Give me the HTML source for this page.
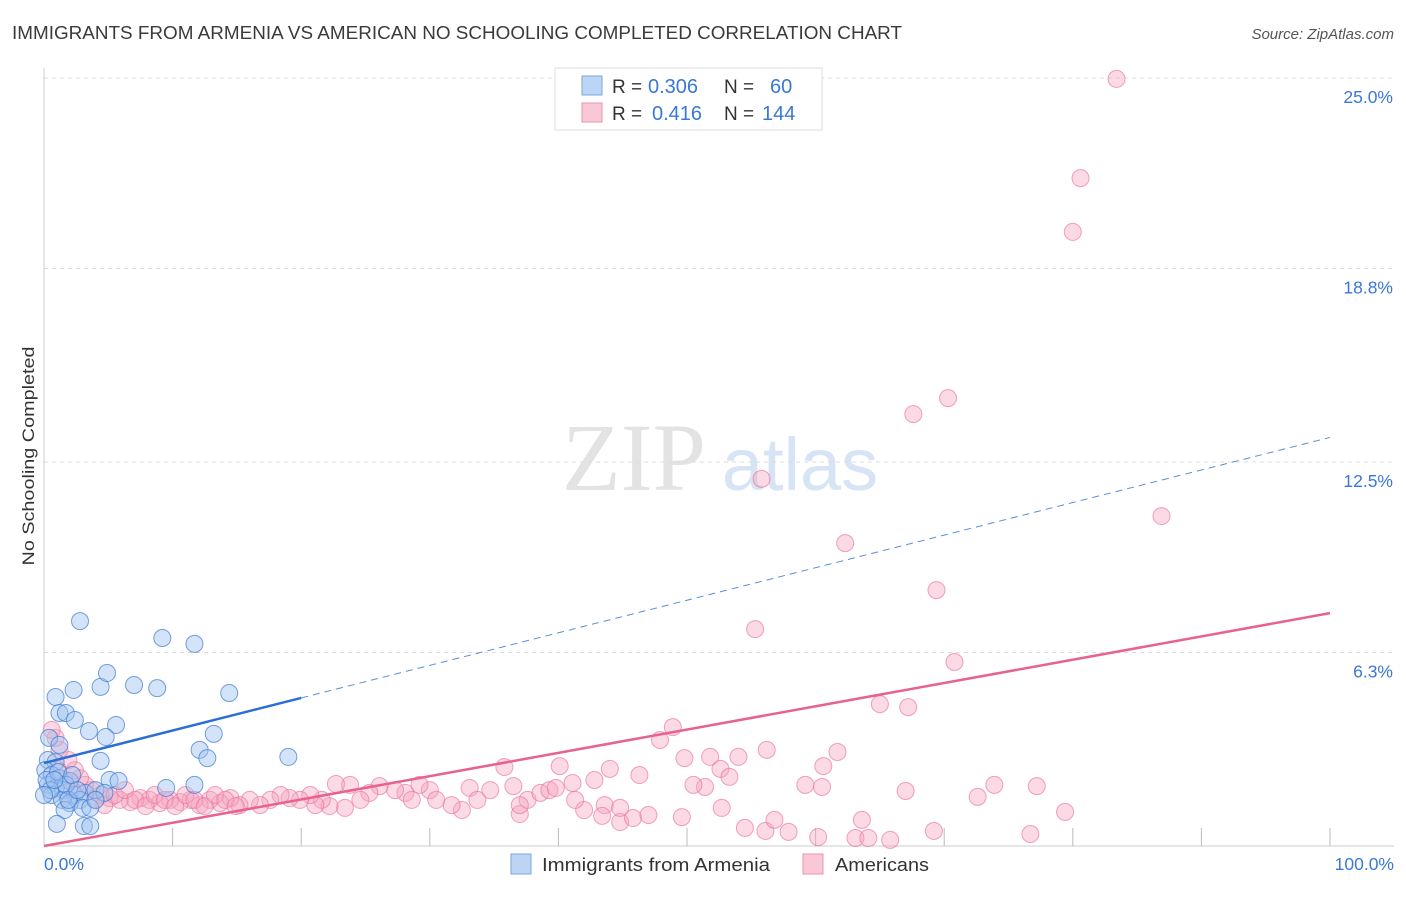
<!DOCTYPE html>
<html><head><meta charset="utf-8"><style>
body{margin:0;background:#fff;font-family:"Liberation Sans",sans-serif;}
svg text{font-family:"Liberation Sans",sans-serif;}
</style></head><body>
<svg id="chart" width="1406" height="892" viewBox="0 0 1406 892" xmlns="http://www.w3.org/2000/svg">
<text x="12" y="39" font-size="18" fill="#3a3a3a" textLength="890" lengthAdjust="spacingAndGlyphs">IMMIGRANTS FROM ARMENIA VS AMERICAN NO SCHOOLING COMPLETED CORRELATION CHART</text>
<text x="1394" y="39" font-size="15" fill="#555" font-style="italic" text-anchor="end">Source: ZipAtlas.com</text>
<g>
<text x="634" y="490" font-size="96" fill="#e3e3e3" text-anchor="middle" font-family="Liberation Serif, serif" style="font-family:'Liberation Serif',serif">ZIP</text>
<text x="800" y="490" font-size="74" fill="#d6e4f5" text-anchor="middle">atlas</text>
</g>
<g id="grid"></g>
<g id="axes"></g>
<g id="pink"></g>
<g id="blue"></g>
<g id="lines"></g>
<text transform="translate(34,456) rotate(-90)" font-size="17" fill="#333" text-anchor="middle" textLength="219" lengthAdjust="spacingAndGlyphs">No Schooling Completed</text>
<g>
<rect x="555" y="68" width="267" height="62" fill="#fff" stroke="#ddd"/>
<rect x="582" y="76" width="20" height="19" fill="#bcd5f5" stroke="#7aa7e0"/>
<text x="612" y="93" font-size="19" fill="#333">R = </text><text x="648" y="93" font-size="20" fill="#3a78d6">0.306</text>
<text x="724" y="93" font-size="19" fill="#333">N = </text><text x="770" y="93" font-size="20" fill="#3a78d6">60</text>
<rect x="582" y="103" width="20" height="19" fill="#f9c8d6" stroke="#ec93ad"/>
<text x="612" y="120" font-size="19" fill="#333">R = </text><text x="652" y="120" font-size="20" fill="#3a78d6">0.416</text>
<text x="724" y="120" font-size="19" fill="#333">N = </text><text x="762" y="120" font-size="20" fill="#3a78d6">144</text>
</g>
<g>
<rect x="511" y="854" width="20" height="20" fill="#bcd5f5" stroke="#7aa7e0"/>
<text x="542" y="871" font-size="18" fill="#333" textLength="228" lengthAdjust="spacingAndGlyphs">Immigrants from Armenia</text>
<rect x="803" y="854" width="20" height="20" fill="#f9c8d6" stroke="#ec93ad"/>
<text x="835" y="871" font-size="18" fill="#333" textLength="94" lengthAdjust="spacingAndGlyphs">Americans</text>
</g>
</svg>
<script>
const yTicks=[6.3,12.5,18.8,25.0];
const yTickLabels=["6.3%","12.5%","18.8%","25.0%"];
const xTickLabels=["0.0%","100.0%"];
const blueX=[2.8,9.2,11.7,0.9,2.3,4.4,4.9,7.0,8.8,14.4,1.2,1.7,2.4,3.5,5.6,4.8,13.2,12.1,12.7,19.0,0.4,1.2,4.4,0.3,0.9,0.1,0.6,1.2,2.0,0.3,0.9,1.5,2.4,3.2,5.1,5.8,9.5,11.7,0.6,1.4,2.8,4.0,4.7,2.0,3.0,1.6,3.6,1.0,3.1,3.6,0.2,0.5,1.1,1.7,0.0,2.2,1.9,2.6,0.8,4.0];
const blueY=[7.32,6.77,6.58,4.85,5.08,5.18,5.63,5.24,5.14,4.98,4.33,4.33,4.10,3.74,3.94,3.55,3.65,3.13,2.86,2.90,3.52,3.29,2.77,2.80,2.73,2.47,2.31,2.21,2.12,1.99,1.89,1.82,1.66,1.73,2.15,2.12,1.89,1.99,1.66,1.50,1.50,1.82,1.73,1.40,1.24,1.17,1.24,0.72,0.65,0.65,2.15,1.82,2.41,1.99,1.66,2.31,1.50,1.82,2.15,1.50];
const pinkX=[83.4,80.6,80.0,67.6,70.3,55.8,86.9,62.3,69.4,55.3,70.8,65.0,67.2,48.9,47.9,49.8,51.8,51.4,52.6,53.3,54.0,56.2,52.7,60.6,61.7,59.2,56.1,56.8,54.5,57.9,60.2,60.5,63.1,63.6,65.8,69.2,67.0,73.9,72.6,77.2,79.4,76.7,64.1,46.3,43.6,44.8,45.8,47.0,44.8,49.6,50.5,42.0,43.4,41.1,42.8,44.0,40.1,41.3,35.8,36.5,37.0,37.6,38.6,39.3,39.8,37.0,33.1,33.7,32.5,31.7,30.0,30.5,29.2,28.1,28.6,27.3,26.1,25.3,24.6,23.8,23.4,22.2,21.6,21.1,20.7,19.9,19.1,18.4,17.6,16.8,16.0,15.2,14.5,13.7,12.9,12.1,11.4,10.6,9.8,9.0,8.2,7.5,6.7,5.9,5.1,4.4,3.7,3.2,2.8,2.4,1.9,1.2,0.9,0.6,1.6,1.1,2.2,4.0,4.7,5.5,6.3,7.1,7.9,8.6,9.4,10.2,11.0,11.7,12.5,13.3,14.1,14.9,22.7,34.7];
const pinkY=[24.97,21.74,19.99,14.06,14.58,11.95,10.74,9.86,8.33,7.06,5.99,4.62,4.52,3.87,3.45,2.86,2.90,1.92,2.51,2.25,2.90,3.13,1.24,2.60,3.06,1.99,0.49,0.85,0.59,0.46,0.29,1.92,0.26,0.85,0.20,0.49,1.79,1.99,1.60,1.95,1.11,0.39,0.26,2.31,1.33,0.78,0.91,1.01,1.24,0.94,1.99,1.17,0.98,2.05,2.15,2.51,2.60,1.50,2.57,1.95,1.04,1.50,1.73,1.82,1.89,1.33,1.89,1.50,1.17,1.33,1.82,1.50,1.99,1.73,1.50,1.82,1.95,1.73,1.50,1.99,1.24,1.30,1.50,1.33,1.66,1.50,1.56,1.66,1.50,1.33,1.50,1.33,1.56,1.40,1.50,1.33,1.50,1.43,1.50,1.40,1.50,1.56,1.43,1.50,1.56,1.66,1.82,1.99,2.21,2.47,2.80,3.13,3.52,3.78,2.15,2.47,1.82,1.50,1.33,1.66,1.82,1.50,1.30,1.66,1.50,1.30,1.66,1.50,1.30,1.66,1.50,1.30,2.02,1.82];
const blueTrend=[2.7,0.106];   // intercept, slope
const pinkTrend=[0.0,0.0758];
const blueSolidEnd=20;

const NS="http://www.w3.org/2000/svg";
const X0=44,X1=1330,Y0=846,YPER=30.72;
function sx(v){return X0+v*(X1-X0)/100;}
function sy(v){return Y0-v*YPER;}
function mk(tag,attrs,parent){const e=document.createElementNS(NS,tag);for(const k in attrs)e.setAttribute(k,attrs[k]);parent.appendChild(e);return e;}
const grid=document.getElementById('grid'),axes=document.getElementById('axes');
yTicks.forEach((t,i)=>{
 const g=mk('line',{x1:X0,x2:1394,y1:sy(t),y2:sy(t),stroke:'#dcdcdc','stroke-dasharray':'4,4'},grid);
 
 
 const l=mk('text',{x:1393,y:sy(t)+25,'font-size':17.5,fill:'#3a78d6','text-anchor':'end'},axes);
 l.textContent=yTickLabels[i];
 
 
});
const ya=mk('line',{x1:X0,x2:X0,y1:68,y2:Y0,stroke:'#ccc'},axes);


const xa=mk('line',{x1:X0,x2:1394,y1:Y0,y2:Y0,stroke:'#ccc'},axes);


for(let i=1;i<=10;i++){
 const t=mk('line',{x1:sx(i*10),x2:sx(i*10),y1:Y0-18,y2:Y0,stroke:'#bbb'},axes);
 
 
}
[[0,'start',44],[100,'end',1394]].forEach((p,i)=>{
 const l=mk('text',{x:p[2],y:870,'font-size':17.5,fill:'#3a78d6','text-anchor':p[1]},axes);
 l.textContent=xTickLabels[i];
 
 
});
const pink=document.getElementById('pink');
pinkX.forEach((v,i)=>{
 const c=mk('circle',{cx:sx(v),cy:sy(pinkY[i]),r:8.5,fill:'rgba(246,165,192,0.42)',stroke:'rgba(233,115,152,0.65)','stroke-width':1},pink);
 
 
});
const blue=document.getElementById('blue');
blueX.forEach((v,i)=>{
 const c=mk('circle',{cx:sx(v),cy:sy(blueY[i]),r:8.5,fill:'rgba(160,196,240,0.45)',stroke:'rgba(60,120,210,0.7)','stroke-width':1},blue);
 
 
});
const lines=document.getElementById('lines');
const bs=mk('line',{x1:sx(0),y1:sy(blueTrend[0]),x2:sx(blueSolidEnd),y2:sy(blueTrend[0]+blueTrend[1]*blueSolidEnd),stroke:'#2a6fd6','stroke-width':2.5},lines);


const bd=mk('line',{x1:sx(blueSolidEnd),y1:sy(blueTrend[0]+blueTrend[1]*blueSolidEnd),x2:sx(100),y2:sy(blueTrend[0]+blueTrend[1]*100),stroke:'#5a8fd8','stroke-width':1,'stroke-dasharray':'7,5'},lines);


const pl=mk('line',{x1:sx(0),y1:sy(pinkTrend[0]),x2:sx(100),y2:sy(pinkTrend[0]+pinkTrend[1]*100),stroke:'#e8628e','stroke-width':2.5},lines);


</script>
</body></html>
